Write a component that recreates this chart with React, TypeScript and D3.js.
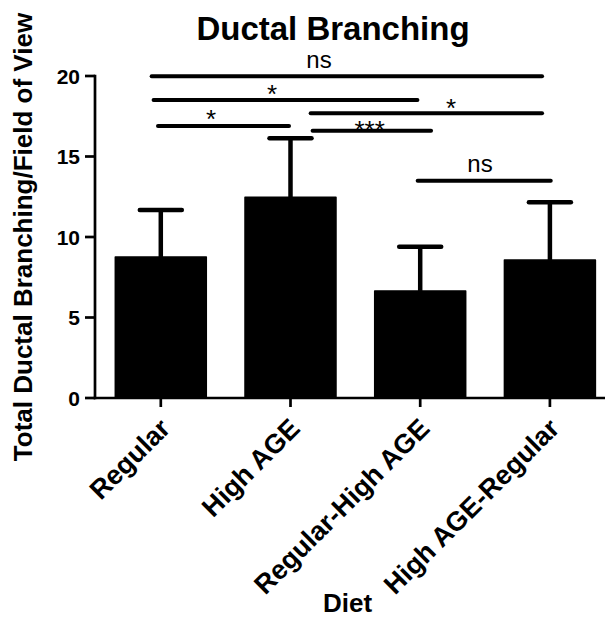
import React from 'react';
import * as d3 from 'd3';

// Group means and upper error (SD) for total ductal branching per field of view
const categories = ['Regular', 'High AGE', 'Regular-High AGE', 'High AGE-Regular'];
const means = [8.76, 12.47, 6.65, 8.57];
const errors = [2.92, 3.66, 2.75, 3.59];
const yTicks = [0, 5, 10, 15, 20];

// Pairwise comparisons: group indices and significance label
const compareA = [0, 0, 1, 0, 1, 2];
const compareB = [3, 2, 3, 1, 2, 3];
const compareLabels = ['ns', '*', '*', '*', '***', 'ns'];

// Bracket layout (bracket height in axis units, extents in category units)
const bracketLevel = [19.98, 18.51, 17.68, 16.89, 16.6, 13.5];
const bracketFrom = [-0.086, -0.071, 1.14, -0.037, 1.155, 1.965];
const bracketTo = [2.955, 1.994, 2.955, 1.004, 2.099, 3.022];
const bracketLabelAt = [1.22, 0.857, 2.237, 0.387, 1.61, 2.461];
const bracketLabelLift = [8.6, 11.7, 11, 12.7, 6.7, 9];

const W = 605;
const H = 618;
const FONT = '"Liberation Sans", Arial, Helvetica, sans-serif';

export default function App() {
  const x = d3
    .scaleBand<string>()
    .domain(categories)
    .range([95, 615.7])
    .paddingInner(0.2984)
    .paddingOuter(0.1565);
  const bw = x.bandwidth();
  const center = (i: number) => (x(categories[i]) as number) + bw / 2;
  const catPos = d3.scaleLinear().domain([0, categories.length - 1]).range([center(0), center(categories.length - 1)]);
  const y = d3.scaleLinear().domain([0, 20]).range([398, 76]);

  const axisX = 95;
  const baseY = y(0);

  return (
    <svg
      width={W}
      height={H}
      viewBox={`0 0 ${W} ${H}`}
      style={{ position: 'absolute', left: 0, top: 0, background: '#fff' }}
      fontFamily={FONT}
    >
      <rect x={0} y={0} width={W} height={H} fill="#fff" />

      {/* title */}
      <text x={333} y={40} textAnchor="middle" fontSize={33} fontWeight="bold" fill="#000">
        Ductal Branching
      </text>

      {/* y axis */}
      <line x1={axisX} x2={axisX} y1={y(20) - 1.3} y2={baseY + 1.3} stroke="#000" strokeWidth={2.7} />
      {yTicks.map((t) => (
        <g key={t}>
          <line x1={axisX - 10} x2={axisX} y1={y(t)} y2={y(t)} stroke="#000" strokeWidth={2.7} />
          <text x={axisX - 15} y={y(t) + 7.5} textAnchor="end" fontSize={21} fontWeight="bold" fill="#000">
            {t}
          </text>
        </g>
      ))}
      <text
        transform={`translate(32, ${(y(0) + y(20)) / 2}) rotate(-90)`}
        textAnchor="middle"
        fontSize={26}
        fontWeight="bold"
        fill="#000"
      >
        Total Ductal Branching/Field of View
      </text>

      {/* bars */}
      {categories.map((c, i) => (
        <rect
          key={c}
          x={x(c) as number}
          y={y(means[i])}
          width={bw}
          height={baseY - y(means[i])}
          fill="#000"
          stroke="#000"
          strokeWidth={1.5}
          strokeLinejoin="round"
        />
      ))}

      {/* error bars */}
      {categories.map((c, i) => {
        const cx = center(i);
        const top = y(means[i] + errors[i]);
        return (
          <g key={c} stroke="#000" strokeWidth={4.5} strokeLinecap="round">
            <line x1={cx} x2={cx} y1={y(means[i])} y2={top} strokeLinecap="butt" />
            <line x1={cx - 21} x2={cx + 21} y1={top} y2={top} />
          </g>
        );
      })}

      {/* x axis */}
      <line x1={axisX - 1.3} x2={W} y1={baseY} y2={baseY} stroke="#000" strokeWidth={2.7} />
      {categories.map((c, i) => (
        <g key={c}>
          <line x1={center(i)} x2={center(i)} y1={baseY} y2={baseY + 9} stroke="#000" strokeWidth={2.7} />
          <text
            transform={`translate(${center(i) + 11}, 430) rotate(-45)`}
            textAnchor="end"
            fontSize={27}
            fontWeight="bold"
            fill="#000"
          >
            {c}
          </text>
        </g>
      ))}
      <text x={347.5} y={611.5} textAnchor="middle" fontSize={26} fontWeight="bold" fill="#000">
        Diet
      </text>

      {/* significance brackets */}
      {compareLabels.map((lab, k) => {
        const ly = y(bracketLevel[k]);
        const x1 = catPos(bracketFrom[k]) + 2;
        const x2 = catPos(bracketTo[k]) - 2;
        const isStar = lab.includes('*');
        const fs = isStar ? 26 : 24;
        // stars: lift gives glyph centre; text: lift gives baseline
        const baseline = isStar ? ly - bracketLabelLift[k] + 0.57 * fs : ly - bracketLabelLift[k];
        return (
          <g key={`${compareA[k]}-${compareB[k]}`}>
            <line x1={x1} x2={x2} y1={ly} y2={ly} stroke="#000" strokeWidth={4} strokeLinecap="round" />
            <text x={catPos(bracketLabelAt[k])} y={baseline} textAnchor="middle" fontSize={fs} fill="#000">
              {lab}
            </text>
          </g>
        );
      })}
    </svg>
  );
}
